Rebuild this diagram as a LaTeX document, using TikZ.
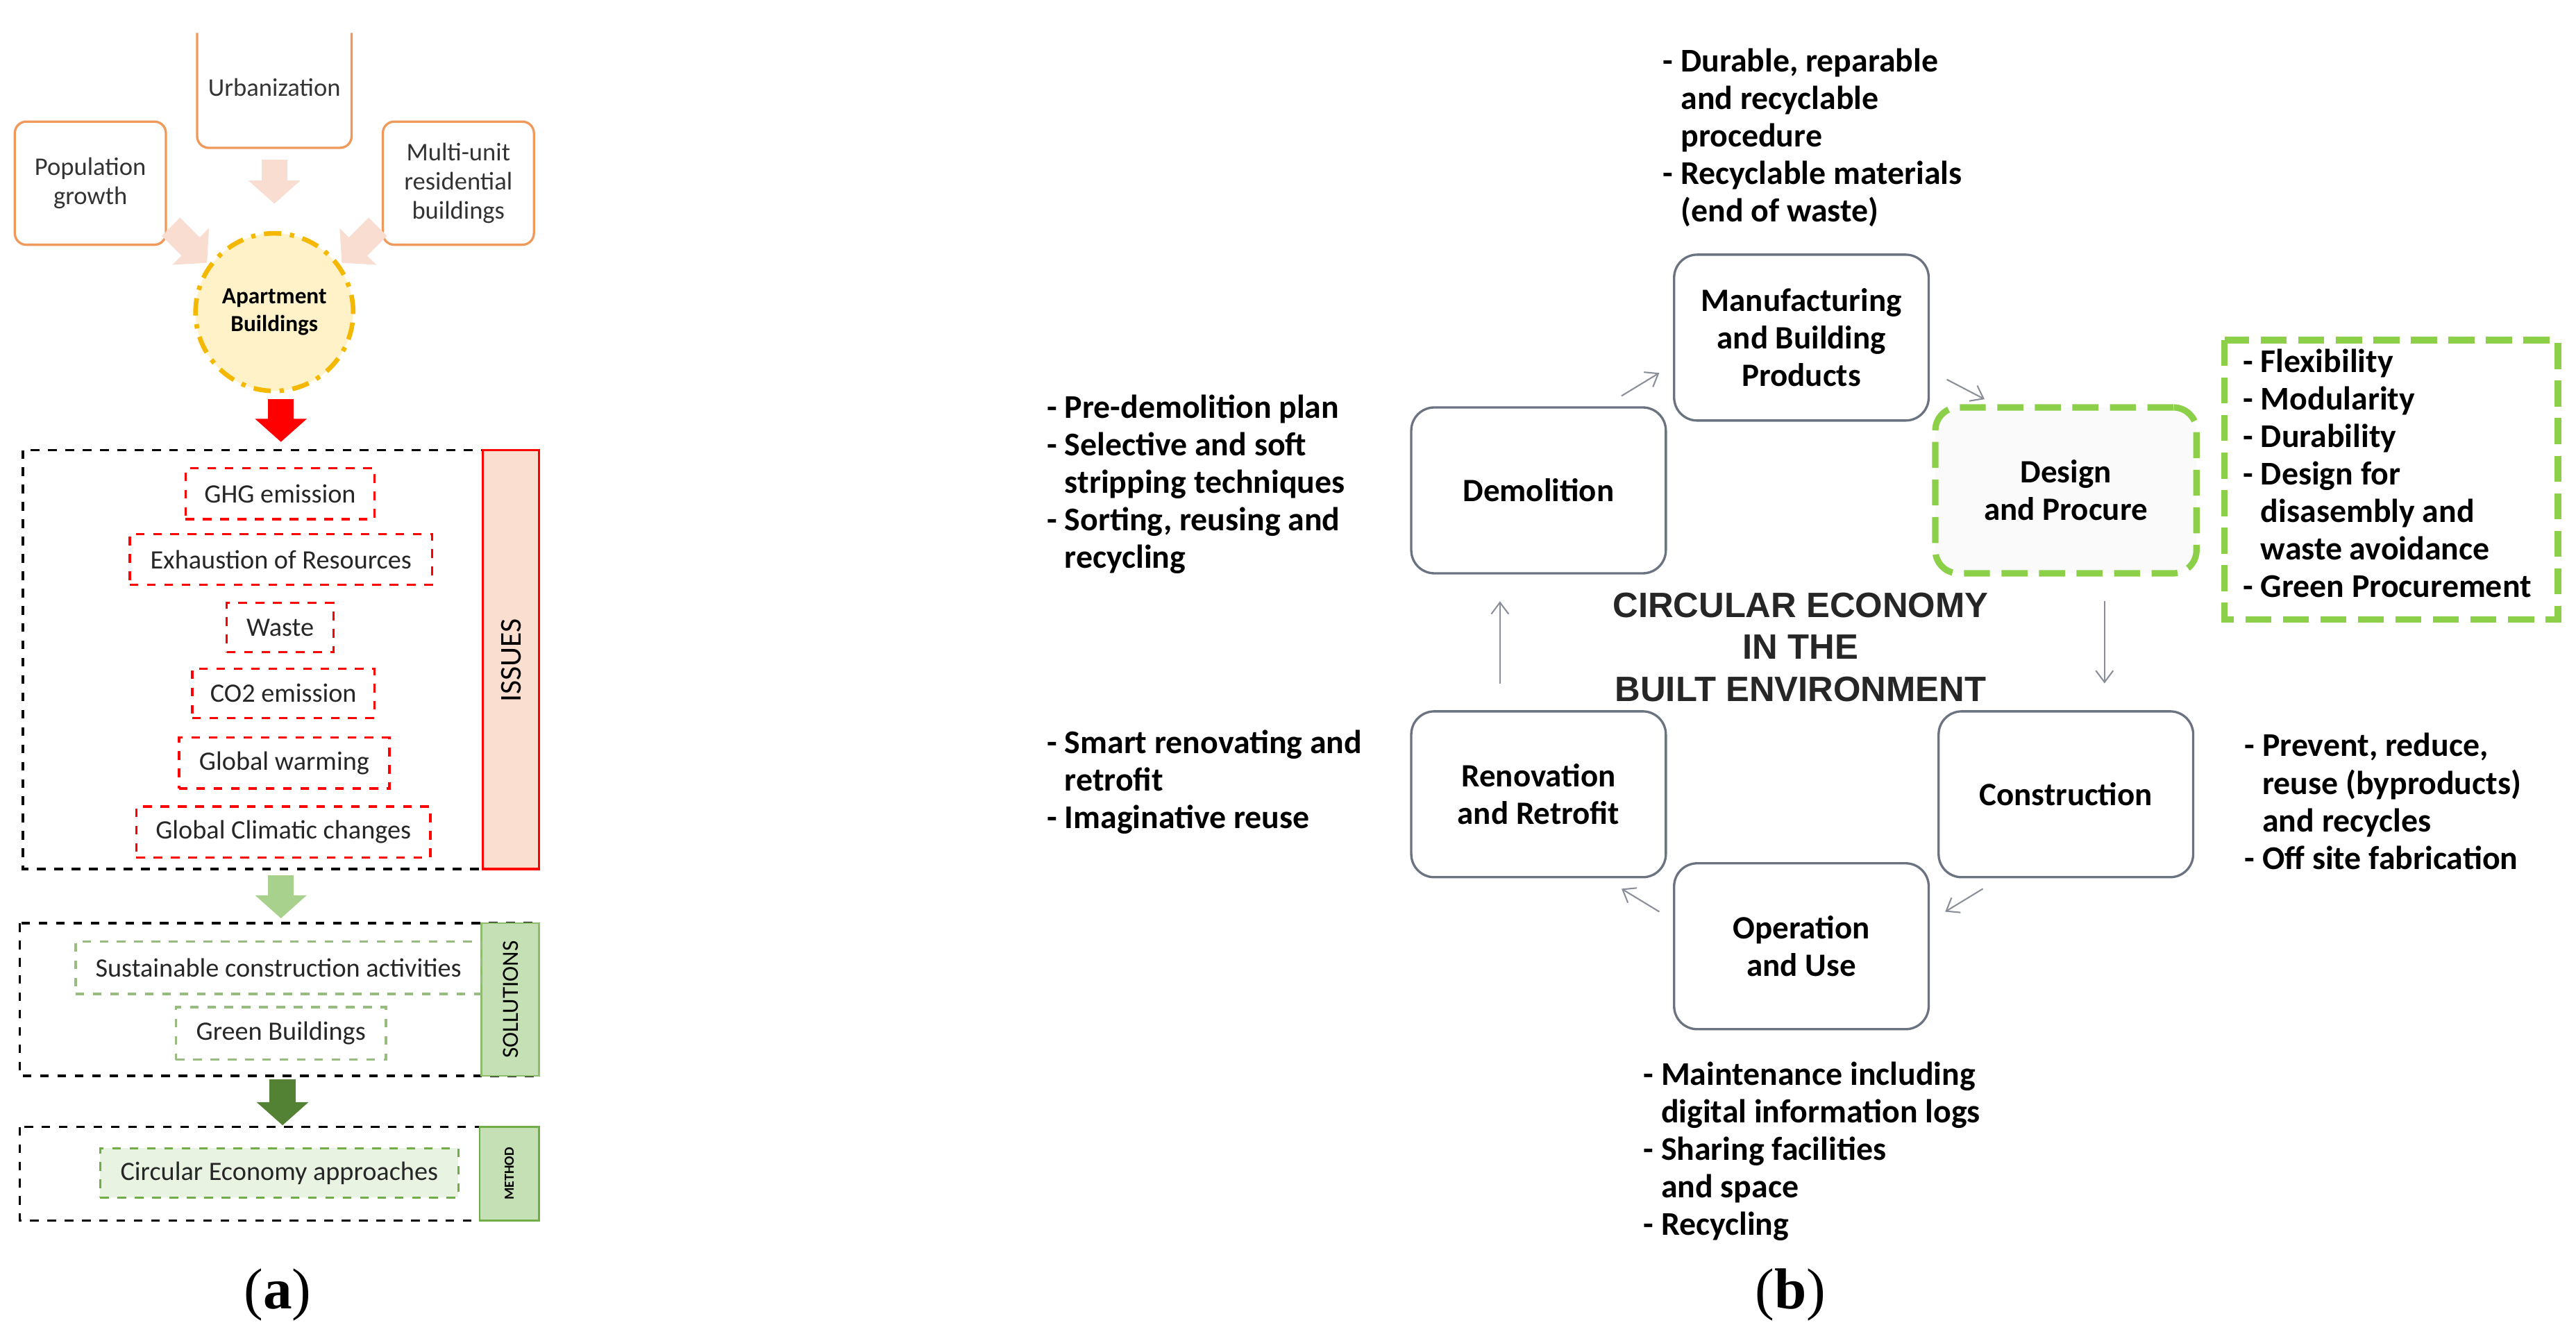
\documentclass[tikz,border=0pt]{standalone}
\usepackage{fontspec}
\setmainfont{Carlito}
\newfontfamily\arialf{Liberation Sans}
\newfontfamily\serf{Liberation Serif}
\usetikzlibrary{arrows.meta}
\definecolor{org}{HTML}{F0995A}
\definecolor{pinkar}{HTML}{F8DDD0}
\definecolor{circfill}{HTML}{FFF2C8}
\definecolor{circline}{HTML}{F5B800}
\definecolor{issfill}{HTML}{FADED0}
\definecolor{lgreen}{HTML}{A9D18E}
\definecolor{dgreen}{HTML}{548235}
\definecolor{gfill}{HTML}{C5E0B4}
\definecolor{gdash}{HTML}{70AD47}
\definecolor{bgreen}{HTML}{8CD04A}
\definecolor{boxg}{HTML}{6B7280}
\tikzset{
 obox/.style={draw=org,line width=0.8pt,rounded corners=4pt,align=center,font=\fontsize{8.8}{10}\selectfont,text=black!80},
 rbox/.style={draw=red,dashed,line width=0.8pt,font=\fontsize{9.2}{10}\selectfont,text=black!85},
 gbox/.style={draw=gdash,dashed,line width=0.8pt,font=\fontsize{9.2}{10}\selectfont,text=black!85},
 kbox/.style={draw=black,dashed,line width=0.9pt},
 fat/.style={line width=9pt,-{Triangle[length=8pt,width=17.5pt]}},
 cbox/.style={draw=boxg,line width=0.8pt,rounded corners=8pt,align=center,font=\bfseries\fontsize{11.3}{13}\selectfont},
 lst/.style={align=left,anchor=north west,font=\bfseries\fontsize{11.5}{13}\selectfont,inner sep=0pt},
 cyc/.style={draw=boxg!80,line width=0.5pt,-{Straight Barb[length=4pt,width=6pt]}},
}
\begin{document}
\begin{tikzpicture}[x=0.02cm,y=-0.02cm]
\useasboundingbox (0,0) rectangle (1568,816);
% ---------- panel (a)
\draw[org,line width=0.8pt,rounded corners=4pt] (120,20) -- (120,90) -- (214,90) -- (214,20);
\node[font=\fontsize{8.8}{10}\selectfont,text=black!80] (urb) at (167,53) {Urbanization};
\node[obox,minimum width=1.84cm,minimum height=1.5cm] (pop) at (55,111.5) {Population\\growth};
\node[obox,minimum width=1.84cm,minimum height=1.5cm] (multi) at (279,111.5) {Multi-unit\\residential\\buildings};
\node[circle,fill=circfill,draw=circline,line width=1.6pt,dash pattern=on 6pt off 3pt on 1.5pt off 3pt,minimum size=1.92cm,align=center,font=\bfseries\fontsize{8}{9.5}\selectfont,inner sep=0pt] (apt) at (167,190) {Apartment\\Buildings};
\coordinate (p1a) at (167,97); \coordinate (p1b) at (167,124);
\coordinate (p2a) at (104,138); \coordinate (p2b) at (126,160);
\coordinate (p3a) at (230,138); \coordinate (p3b) at (208,160);
\draw[fat,pinkar] (p1a) -- (p1b);
\draw[fat,pinkar] (p2a) -- (p2b);
\draw[fat,pinkar] (p3a) -- (p3b);
% issues
\draw[kbox] (14,274) rectangle (328,529);
\draw[red,fill=issfill,line width=0.8pt] (294,274) rectangle (328,529);
\node[rotate=90,font=\fontsize{10.5}{11}\selectfont] (iss) at (311,402) {ISSUES};
\coordinate (r1) at (171,243); \coordinate (r2) at (171,269);
\draw[fat,red] (r1) -- (r2);
\node[rbox,minimum width=2.3cm,minimum height=0.62cm] (ghg) at (170.5,300.5) {GHG emission};
\node[rbox,minimum width=3.68cm,minimum height=0.62cm] (exh) at (171,340.5) {Exhaustion of Resources};
\node[rbox,minimum width=1.3cm,minimum height=0.6cm] (was) at (170.5,382) {Waste};
\node[rbox,minimum width=2.22cm,minimum height=0.6cm] (co2) at (172.5,422) {CO2 emission};
\node[rbox,minimum width=2.56cm,minimum height=0.62cm] (gw) at (173,464.5) {Global warming};
\node[rbox,minimum width=3.58cm,minimum height=0.62cm] (gcc) at (172.5,506.5) {Global Climatic changes};
% solutions
\coordinate (g1) at (171,533); \coordinate (g2) at (171,559);
\draw[fat,lgreen] (g1) -- (g2);
\draw[kbox] (12,562) rectangle (328,655);
\draw[draw=gdash!80,fill=gfill,line width=0.6pt] (293,562) rectangle (328,655);
\node[rotate=90,font=\fontsize{8}{8}\selectfont] (sol) at (311,608.5) {SOLLUTIONS};
\node[gbox,draw=lgreen!90!black,minimum width=4.94cm,minimum height=0.64cm] (sus) at (169.5,589) {Sustainable construction activities};
\node[gbox,draw=lgreen!90!black,minimum width=2.56cm,minimum height=0.64cm] (gb) at (171,629) {Green Buildings};
% method
\coordinate (d1) at (172,657); \coordinate (d2) at (172,685);
\draw[fat,dgreen] (d1) -- (d2);
\draw[kbox] (12,686) rectangle (328,743);
\draw[draw=gdash,fill=gfill,line width=0.6pt] (292,686) rectangle (328,743);
\node[rotate=90,font=\bfseries\fontsize{4.8}{5}\selectfont] (met) at (310,714.5) {METHOD};
\node[gbox,fill=gfill!40,minimum width=4.36cm,minimum height=0.6cm] (cea) at (170,714) {Circular Economy approaches};
\node[font=\serf\fontsize{20}{22}\selectfont] (la) at (169,788) {(\textbf{a})};
% ---------- panel (b)
\node[cbox,minimum width=3.1cm,minimum height=2.02cm] (man) at (1096.5,205.5) {Manufacturing\\and Building\\Products};
\node[cbox,minimum width=3.1cm,minimum height=2.02cm] (dem) at (936.5,298.5) {Demolition};
\node[cbox,draw=bgreen,line width=2.2pt,dash pattern=on 9pt off 4pt,fill=black!2,minimum width=3.18cm,minimum height=2.02cm] (des) at (1257.5,298.5) {Design\\and Procure};
\node[cbox,minimum width=3.1cm,minimum height=2.02cm] (ren) at (936.5,483.5) {Renovation\\and Retrofit};
\node[cbox,minimum width=3.1cm,minimum height=2.02cm] (con) at (1257.5,483.5) {Construction};
\node[cbox,minimum width=3.1cm,minimum height=2.02cm] (ope) at (1096.5,576) {Operation\\and Use};
\node[align=center,font=\arialf\bfseries\fontsize{12.2}{14.5}\selectfont,text=black!85] (title) at (1096,394) {CIRCULAR ECONOMY\\IN THE\\BUILT ENVIRONMENT};
\coordinate (c1a) at (987,241); \coordinate (c1b) at (1010,227);
\coordinate (c2a) at (1185,231); \coordinate (c2b) at (1208,243);
\coordinate (c3a) at (1281,366); \coordinate (c3b) at (1281,416);
\coordinate (c4a) at (1207,541); \coordinate (c4b) at (1184,555);
\coordinate (c5a) at (1010,555); \coordinate (c5b) at (987,541);
\coordinate (c6a) at (913,416); \coordinate (c6b) at (913,366);
\draw[cyc] (c1a) -- (c1b);
\draw[cyc] (c2a) -- (c2b);
\draw[cyc] (c3a) -- (c3b);
\draw[cyc] (c4a) -- (c4b);
\draw[cyc] (c5a) -- (c5b);
\draw[cyc] (c6a) -- (c6b);
\def\ind{\phantom{- }}
\node[lst] (t1) at (1012,29) {- Durable, reparable\\\ind and recyclable\\\ind procedure\\- Recyclable materials\\\ind(end of waste)};
\node[lst] (t2) at (637,240) {- Pre-demolition plan\\- Selective and soft\\\ind stripping techniques\\- Sorting, reusing and\\\ind recycling};
\node[lst] (t3) at (637,444) {- Smart renovating and\\\ind retrofit\\- Imaginative reuse};
\draw[bgreen,line width=2.2pt,dash pattern=on 9pt off 4pt] (1354,207) rectangle (1557,377);
\node[lst] (t4) at (1365,212) {- Flexibility\\- Modularity\\- Durability\\- Design for\\\ind disasembly and\\\ind waste avoidance\\- Green Procurement};
\node[lst] (t5) at (1366,446) {- Prevent, reduce,\\\ind reuse (byproducts)\\\ind and recycles\\- Off site fabrication};
\node[lst] (t6) at (1000,646) {- Maintenance including\\\ind digital information logs\\- Sharing facilities\\\ind and space\\- Recycling};
\node[font=\serf\fontsize{20}{22}\selectfont] (lb) at (1090,788) {(\textbf{b})};
\end{tikzpicture}
\end{document}
